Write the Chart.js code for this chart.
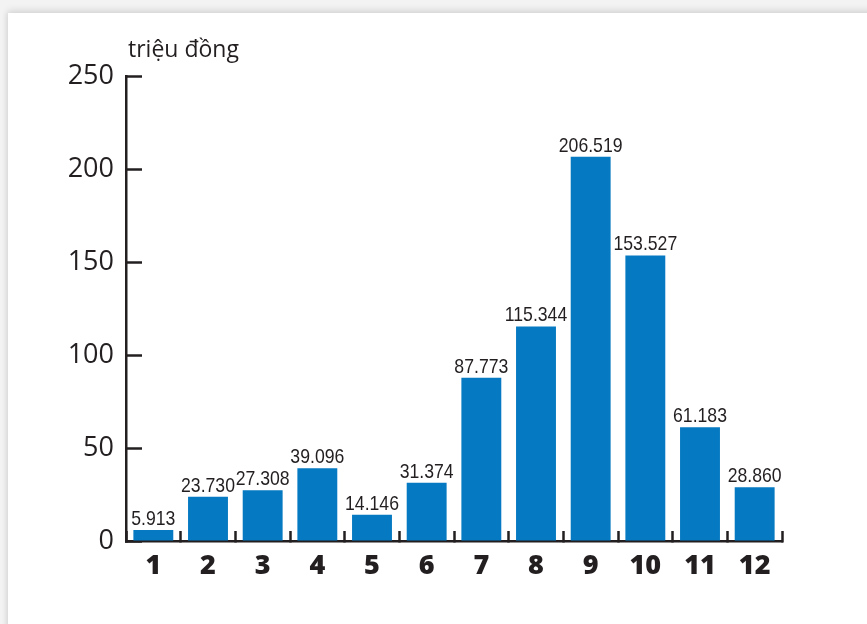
<!DOCTYPE html>
<html>
<head>
<meta charset="utf-8">
<script src="https://cdn.jsdelivr.net/npm/chart.js@4/dist/chart.umd.min.js"></script>
<style>
  html, body { margin: 0; padding: 0; width: 867px; height: 624px; overflow: hidden; background: #f3f3f3; }
  #card { position: absolute; left: 8px; top: 13px; width: 900px; height: 700px; background: #ffffff;
          box-shadow: 0 -3px 7px rgba(0,0,0,0.10), -2px 0 5px rgba(0,0,0,0.06); }
  #wrap { position: absolute; left: 0; top: 0; width: 867px; height: 624px; }
</style>
</head>
<body>
<div id="card"></div>
<div id="wrap"><canvas id="c" width="867" height="624"></canvas></div>
<script>
const categories = ['1','2','3','4','5','6','7','8','9','10','11','12'];
const revenue = [5.913, 23.730, 27.308, 39.096, 14.146, 31.374, 87.773, 115.344, 206.519, 153.527, 61.183, 28.860];
const yTicks = [0, 50, 100, 150, 200, 250];
const unitLabel = 'triệu đồng';

const INK = '#231f20';
const BAR = '#0579c2';

const labelsPlugin = {
  id: 'valueLabels',
  afterDatasetsDraw(chart) {
    const ctx = chart.ctx;
    const meta = chart.getDatasetMeta(0);
    const sx = 0.84;
    ctx.save();
    ctx.fillStyle = INK;
    ctx.font = '21px "Liberation Sans", Arial, sans-serif';
    ctx.textAlign = 'center';
    ctx.textBaseline = 'alphabetic';
    meta.data.forEach((bar, i) => {
      ctx.save();
      ctx.translate(bar.x, bar.y - 5);
      ctx.scale(sx, 1);
      ctx.fillText(revenue[i].toFixed(3), 0, 0);
      ctx.restore();
    });
    // unit label
    ctx.font = '23px "Open Sans", sans-serif';
    ctx.textAlign = 'left';
    ctx.fillText(unitLabel, chart.chartArea.left + 2, 57);
    ctx.restore();
  }
};

new Chart(document.getElementById('c'), {
  type: 'bar',
  data: {
    labels: categories,
    datasets: [{
      data: revenue,
      backgroundColor: BAR,
      borderWidth: 0,
      barPercentage: 0.73,
      categoryPercentage: 1.0
    }]
  },
  options: {
    responsive: false,
    animation: false,
    events: [],
    layout: { padding: { left: 0, right: 85, top: 76, bottom: 43 } },
    plugins: { legend: { display: false }, tooltip: { enabled: false }, title: { display: false } },
    scales: {
      x: {
        offset: true,
        grid: {
          offset: true,
          drawOnChartArea: false,
          drawTicks: true,
          tickLength: -10,
          tickWidth: 2.5,
          tickColor: INK
        },
        border: { display: true, color: INK, width: 2.5 },
        ticks: {
          color: INK,
          padding: 19,
          maxRotation: 0,
          font: { family: '"Open Sans", sans-serif', size: 27, weight: '800' }
        },
        afterFit(scale) { scale.height = 40; }
      },
      y: {
        min: 0,
        max: 250,
        afterBuildTicks(scale) { scale.ticks = yTicks.map(v => ({ value: v })); },
        grid: {
          drawOnChartArea: false,
          drawTicks: true,
          tickLength: -16,
          tickWidth: 2.5,
          tickColor: INK
        },
        border: { display: true, color: INK, width: 2.5 },
        ticks: {
          color: INK,
          padding: 28,
          font: { family: '"Open Sans", sans-serif', size: 27 }
        },
        afterFit(scale) { scale.width = 126; }
      }
    }
  },
  plugins: [labelsPlugin]
});
</script>
</body>
</html>
